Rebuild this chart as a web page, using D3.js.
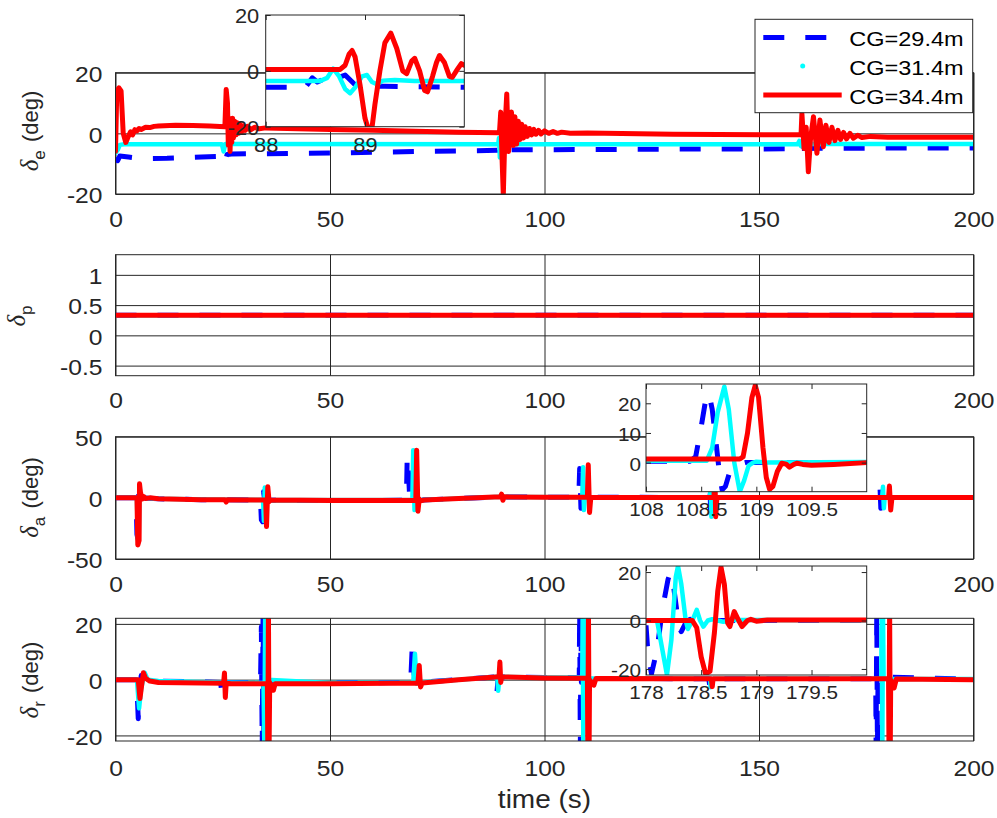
<!DOCTYPE html>
<html><head><meta charset="utf-8">
<script src="https://cdn.jsdelivr.net/npm/d3@7"></script>
<style>
body{margin:0;background:#fff;}
svg{display:block;}
</style></head><body>
<svg id="chart" width="997" height="818"></svg>
<script>
// ---------------- DATA ----------------
const seriesNames = ["CG=29.4m", "CG=31.4m", "CG=34.4m"];
const xTicksMain = [0, 50, 100, 150, 200];

// delta_e (deg), main plot
const deBlue = [[0,-8],[0.5,-9],[1,-7.5],[3,-7.8],[6,-8.3],[12,-8.2],[20,-7.8],[24.5,-7.6],[25,-10],[25.6,-9.5],[26,-7],[27,-6.8],[35,-6.7],[50,-6.5],[70,-6],[89,-5.6],[89.5,-4],[90,-5.5],[90.5,-6],[91,-5.4],[100,-5.4],[130,-5.2],[158.5,-5.1],[158.8,-4.5],[159.4,-5.8],[160,-5],[170,-4.9],[200,-4.8]];
const deCyan = [[0,-6.5],[0.5,-5.5],[1,-3.8],[2,-3.6],[24.8,-3.6],[25.2,-6],[25.6,-3.5],[89.2,-3.6],[89.4,-1.5],[89.6,-8],[90,-3.2],[90.4,-3.8],[91,-3.6],[159,-3.6],[159.4,-2.5],[159.8,-4.2],[160.3,-3.5],[200,-3.5]];
const deRed = [[0,-6],[0.3,14],[0.8,15],[1.3,14],[1.8,0],[2.4,-3],[3,-1],[3.5,0.5],[4,-0.5],[4.5,1.2],[5,0.8],[5.5,1.6],[6,1.3],[7,2],[8,1.9],[9,2.3],[10,2.4],[14,2.7],[18,2.6],[22,2.4],[25.5,2.2],[25.8,14.5],[26.1,10],[26.3,-4],[26.5,5],[26.7,-6],[26.9,4],[27.1,-3],[27.3,5],[27.5,-1.5],[27.8,4],[28.1,-0.5],[28.4,3.5],[28.7,0],[29,3],[29.4,0.5],[29.8,2.5],[30.3,1],[30.8,2.3],[31.5,1.2],[32.5,2],[33.5,1.5],[35,1.8],[40,1.6],[50,1.3],[60,1.0],[70,0.7],[80,0.4],[89.5,0.2],[89.8,7],[90.1,-8],[90.4,-20.5],[90.8,2],[91.2,13],[91.6,-6],[92,-2],[92.3,7],[92.7,-4],[93.1,5.5],[93.5,-3.5],[93.9,4],[94.3,-2],[94.7,3],[95.1,-1.5],[95.5,2.2],[96,-1],[96.5,1.6],[97,-0.5],[97.5,1.3],[98,-0.3],[98.6,1],[99.2,-0.2],[100,0.8],[101,0],[102,0.6],[103,0],[104,0.4],[106,0],[110,0.1],[130,-0.3],[159.8,-0.5],[160,6.5],[160.5,-5],[161,2],[161.5,-12.7],[162,-2],[162.7,5.5],[163.5,-6.6],[164.2,4.4],[165,-4.4],[165.6,2.7],[166.3,-3],[167,2],[167.7,-2.4],[168.4,1],[169,-2],[169.7,0.3],[170.4,-1.8],[171.2,0],[172,-1.6],[173,-0.6],[174,-1.4],[176,-1],[180,-1.3],[200,-1.3]];

// delta_e inset (88-90 s)
const ieBlue = [[88,-5.9],[88.4,-5.9],[88.47,-2.5],[88.52,-4],[88.58,-3],[88.66,-1],[88.72,-2.5],[88.8,-1.5],[88.9,-5],[89.0,-4.5],[89.1,-5.5],[89.2,-5.5],[90,-5.9]];
const ieCyan = [[88,-3.6],[88.55,-3.6],[88.62,-2.5],[88.68,0.8],[88.74,-2],[88.8,-6.5],[88.85,-8],[88.9,-6],[88.97,-2],[89.02,-1.5],[89.07,-4],[89.12,-4.8],[89.18,-3.5],[89.3,-3.3],[89.5,-3.6],[90,-3.6]];
const ieRed = [[88,0.5],[88.75,0.5],[88.8,2],[88.84,6],[88.87,7.3],[88.9,5],[88.95,-5],[89.0,-17],[89.03,-20.5],[89.07,-20.5],[89.1,-12],[89.15,0],[89.2,10],[89.26,13.5],[89.32,8],[89.38,0],[89.42,-1],[89.47,3.5],[89.5,4.5],[89.55,0],[89.6,-7],[89.63,-7.5],[89.68,-2],[89.72,3],[89.75,5.5],[89.8,3],[89.85,-2],[89.88,-2.3],[89.93,0.5],[89.97,2.6],[90,2]];

// delta_p
const dpBlue = [[0,0.333],[200,0.333]];
const dpCyan = [[0,0.333],[200,0.333]];
const dpRed = [[0,0.333],[200,0.333]];

// delta_a (deg)
const daBlue = [[0,0],[4.8,0],[5,-30],[5.2,-33],[5.4,8],[5.6,5],[5.8,-1],[6,0],[10,-0.8],[20,-1.5],[25,-1.5],[33.8,-1.8],[34,-18],[34.3,-19.5],[34.5,5],[34.8,-2],[36,-2],[50,-2.2],[67.8,-2],[68,34],[68.3,20],[68.6,-2],[70,-2],[80,-0.5],[90,0.8],[100,0.5],[108,0.5],[108.2,24],[108.5,-8.6],[108.8,0.5],[138.4,0.3],[138.5,25],[138.7,-10],[139,0.3],[178,0.3],[178.2,9],[178.4,-8.6],[178.6,0.3],[200,0.3]];
const daCyan = [[0,0],[5,0],[5.2,-34],[5.4,-36],[5.6,9],[5.8,3],[6.1,0],[10,-0.8],[25,-1.5],[34.4,-1.8],[34.6,-19],[34.8,8.5],[35,-2],[50,-2.2],[69.2,-2],[69.4,39],[69.7,-10],[70,-2],[80,-0.5],[90,0.8],[108.8,0.5],[109,25],[109.2,-10],[109.4,0.5],[138.6,0.3],[138.7,25],[138.9,-15.5],[139.1,0.3],[178.7,0.3],[178.9,9],[179.1,-8.6],[179.3,0.3],[200,0.3]];
const daRed = [[0,0],[5,0],[5.2,-38.5],[5.5,-35],[5.6,11.5],[5.8,5],[6.2,-1],[6.6,1],[7,-0.5],[8,0],[10,-0.8],[20,-1.5],[25.5,-1.6],[25.8,-3.5],[26.1,-1.6],[35,-1.8],[35.2,-23.5],[35.5,9],[35.8,-3],[36.2,-1.8],[50,-2.2],[70,-2],[70.2,39],[70.5,-11],[70.8,-1],[71.1,-2.5],[72,-1.8],[80,-0.5],[89.7,0.9],[90,3],[90.3,-2],[90.6,0.8],[100,0.5],[110,0.4],[110.2,27],[110.5,-12],[110.8,0.4],[139.5,0.3],[139.7,25],[139.9,-15.5],[140.2,0.3],[180.2,0.3],[180.4,9.6],[180.7,-10],[181,0.3],[200,0.3]];

// delta_a inset (108-110 s)
const iaBlue = [[108,0.5],[108.4,0.5],[108.45,2],[108.5,12],[108.54,21],[108.57,23.4],[108.6,18],[108.64,5],[108.67,-5],[108.69,-9.2],[108.72,-8],[108.76,-3],[108.79,-1.9],[108.85,-0.5],[108.9,0],[110,0]];
const iaCyan = [[108,0.6],[108.55,0.6],[108.6,5],[108.65,17],[108.71,25.6],[108.75,18],[108.8,0],[108.85,-9.8],[108.89,-6],[108.93,-1],[108.97,0],[109,0.3],[109.1,0],[110,0.2]];
const iaRed = [[108,1.2],[108.85,1.2],[108.88,2],[108.92,10],[108.96,22],[108.99,26],[109.02,22],[109.06,5],[109.09,-5],[109.12,-9],[109.15,-8],[109.19,-3],[109.23,-0.2],[109.27,-0.5],[109.3,-1.5],[109.34,-0.6],[109.37,-0.2],[109.42,-0.6],[109.5,-0.9],[109.7,-0.6],[110,0]];

// delta_r (deg)
const drBlue = [[0,0],[4.8,0],[5,-3],[5.3,-14],[5.6,-3],[6,1.5],[7,0.5],[10,-0.5],[24.5,-1],[24.8,-5],[25.1,-1],[33.8,-1.2],[34,19],[34.2,-25],[34.4,25],[34.6,-25],[34.8,-1],[50,-1.2],[68.8,-1],[69.2,13],[69.6,2],[70,-1],[80,0],[88.7,1],[88.9,-5],[89.2,1],[100,0.8],[108.1,0.8],[108.2,25],[108.35,-25],[108.5,25],[108.6,-1],[108.8,0.5],[138.3,0.3],[138.5,-2],[138.7,0.3],[177.2,0.3],[177.3,-25],[177.45,25],[177.6,-25],[177.75,1],[200,0.2]];
const drCyan = [[0,0],[5,0],[5.5,-10.3],[6,-3],[6.8,2.5],[7.5,0],[10,-0.5],[25,-1],[34.5,-1.2],[34.7,-25],[34.9,25],[35.1,-25],[35.3,0],[50,-1.2],[69.4,-1],[69.8,9.3],[70.2,-1.5],[70.5,-1],[80,0],[89,1],[89.2,-4],[89.5,1],[100,0.8],[108.8,0.8],[108.9,25],[109.05,-25],[109.2,25],[109.35,0.5],[138.6,0.3],[138.7,-2.7],[138.8,0.3],[178.5,0.3],[178.6,25],[178.75,-25],[178.9,25],[179.05,0.3],[200,0.2]];
const drRed = [[0,0],[5.3,0],[5.7,-6.8],[6.1,-2],[6.5,2.5],[7,0.5],[8,-0.5],[10,-1],[25.2,-1.3],[25.4,2.4],[25.6,-6.4],[25.8,-1.3],[27,-1.5],[30,-1.5],[35.4,-1.5],[35.5,-25],[35.65,25],[35.8,-25],[35.95,-1],[36.8,-3.8],[37.2,-1.5],[50,-1.5],[70.5,-1.2],[70.8,5.1],[71.1,-2.6],[71.5,-1.2],[80,0],[89.4,1],[89.6,6.3],[89.8,-1],[90,1],[100,0.6],[110,0.5],[110.1,-25],[110.25,25],[110.4,-25],[110.5,0],[111.5,-2],[112,0.4],[138.9,0.3],[139.1,-2.5],[139.3,0.3],[180.2,0.3],[180.3,-25],[180.45,25],[180.6,-25],[180.7,0],[181.5,-3],[182,0.2],[200,0]];

// delta_r inset (178-180 s)
const irBlue = [[178,-2],[178.02,-15],[178.05,-22],[178.1,-12],[178.15,5],[178.2,17],[178.22,19.7],[178.25,14],[178.3,-3],[178.32,-4.6],[178.36,-1],[178.4,0.5],[178.45,-0.5],[178.5,0],[180,0]];
const irCyan = [[178,0],[178.1,0],[178.14,-10],[178.19,-22.5],[178.23,-8],[178.27,18],[178.29,22.5],[178.32,15],[178.36,0],[178.38,-3.5],[178.42,0],[178.46,4.4],[178.49,0],[178.52,-2.5],[178.56,0],[178.6,0.5],[178.7,-0.5],[178.8,0.2],[180,0]];
const irRed = [[178,0],[178.42,0],[178.46,-3],[178.5,-15],[178.54,-22],[178.58,-21],[178.62,-5],[178.65,12],[178.68,22],[178.71,15],[178.74,-1],[178.76,-2.5],[178.8,3.7],[178.84,0],[178.87,-2.5],[178.92,0],[178.95,0.5],[179,-0.3],[179.1,0.2],[180,0.2]];

// ---------------- DRAWING ----------------
const svg = d3.select("#chart");
const SX = 1.12;
const FONT = '"Liberation Sans", Arial, Helvetica, sans-serif';
const INK = "#262626";
const COLORS = ["#0000ff", "#00ffff", "#ff0000"];
const WIDTHS = [5, 4.5, 5];
const DASH = ["21 21", null, null];
let clipId = 0;

function drawPanel(cfg) {
  const w = cfg.x1 - cfg.x0, h = cfg.y1 - cfg.y0;
  const g = svg.append("g").attr("transform", `translate(${cfg.x0},${cfg.y0})`);
  const x = d3.scaleLinear().domain(cfg.xd).range([0, w]);
  const y = d3.scaleLinear().domain(cfg.yd).range([h, 0]);
  g.append("rect").attr("width", w).attr("height", h).attr("fill", "#fff");
  if (cfg.grid) {
    g.append("g").attr("transform", `translate(0,${h})`)
      .call(d3.axisBottom(x).tickValues(cfg.xt).tickSize(-h).tickFormat(""))
      .call(s => { s.select(".domain").remove(); s.selectAll("line").attr("stroke", INK).attr("stroke-width", 1); });
    g.append("g")
      .call(d3.axisLeft(y).tickValues(cfg.yt).tickSize(-w).tickFormat(""))
      .call(s => { s.select(".domain").remove(); s.selectAll("line").attr("stroke", INK).attr("stroke-width", 1); });
  }
  const id = "clip" + (clipId++);
  g.append("clipPath").attr("id", id).append("rect").attr("width", w).attr("height", h);
  const line = d3.line().x(d => x(d[0])).y(d => y(d[1]));
  const pg = g.append("g").attr("clip-path", `url(#${id})`);
  cfg.series.forEach((s, i) => {
    pg.append("path").datum(s).attr("d", line)
      .attr("fill", "none").attr("stroke", COLORS[i]).attr("stroke-width", WIDTHS[i])
      .attr("stroke-dasharray", DASH[i]).attr("stroke-linejoin", "round")
      .attr("stroke-linecap", i === 0 ? "butt" : "round");
  });
  if (!cfg.grid) {
    const tk = 5;
    const mk = (ax, tr, vals) => g.append("g").attr("transform", tr)
      .call(ax.tickValues(vals).tickSize(-tk).tickFormat(""))
      .call(s => { s.select(".domain").remove(); s.selectAll("line").attr("stroke", INK); });
    mk(d3.axisBottom(x), `translate(0,${h})`, cfg.xt);
    mk(d3.axisTop(x), `translate(0,0)`, cfg.xt);
    mk(d3.axisLeft(y), `translate(0,0)`, cfg.yt);
    mk(d3.axisRight(y), `translate(${w},0)`, cfg.yt);
  }
  g.append("rect").attr("width", w).attr("height", h).attr("fill", "none").attr("stroke", INK).attr("stroke-width", 1);
  // tick labels
  const xa = g.append("g").attr("transform", `translate(0,${h})`)
    .call(d3.axisBottom(x).tickValues(cfg.xt).tickSize(0).tickFormat(d => String(d)));
  xa.select(".domain").remove();
  xa.attr("font-size", null).attr("font-family", null);
  xa.selectAll("text").attr("y", cfg.xlabOff).attr("dy", null)
    .attr("transform", `scale(${SX},1)`).attr("font-size", cfg.fs)
    .attr("font-family", FONT).attr("fill", INK);
  const ya = g.append("g")
    .call(d3.axisLeft(y).tickValues(cfg.yt).tickSize(0).tickFormat(d => String(d)));
  ya.select(".domain").remove();
  ya.attr("font-size", null).attr("font-family", null);
  ya.selectAll("text").attr("x", -cfg.ylabGap / SX).attr("dy", "0.4em")
    .attr("transform", `scale(${SX},1)`).attr("font-size", cfg.fs)
    .attr("font-family", FONT).attr("fill", INK);
  return g;
}

const X0 = 115.5, X1 = 973.5;
const mainBase = { x0: X0, x1: X1, xd: [0, 200], xt: xTicksMain, grid: true, fs: 22, ylabGap: 13 };

drawPanel(Object.assign({}, mainBase, { y0: 72.7, y1: 194, yd: [-20, 20], yt: [-20, 0, 20], xlabOff: 33.5, series: [deBlue, deCyan, deRed] }));
drawPanel(Object.assign({}, mainBase, { y0: 254.7, y1: 375.7, yd: [-0.667, 1.333], yt: [-0.5, 0, 0.5, 1], xlabOff: 32.5, series: [dpBlue, dpCyan, dpRed] }));
drawPanel(Object.assign({}, mainBase, { y0: 436.7, y1: 559, yd: [-50, 50], yt: [-50, 0, 50], xlabOff: 33.5, series: [daBlue, daCyan, daRed] }));
drawPanel(Object.assign({}, mainBase, { y0: 618.3, y1: 741, yd: [-22, 22], yt: [-20, 0, 20], xlabOff: 35.5, series: [drBlue, drCyan, drRed] }));

const insetBase = { grid: false, fs: 18.5, ylabGap: 5, xlabOff: 24 };
drawPanel(Object.assign({}, insetBase, { x0: 265.7, x1: 464.3, y0: 15, y1: 126.7, xd: [88, 90], xt: [88, 89], yd: [-20, 20], yt: [-20, 0, 20], fs: 19.5, ylabGap: 6.5, xlabOff: 25, series: [ieBlue, ieCyan, ieRed] }));
drawPanel(Object.assign({}, insetBase, { x0: 646, x1: 866.7, y0: 384, y1: 491.7, xd: [108, 110], xt: [108, 108.5, 109, 109.5], yd: [-9.8, 26.5], yt: [0, 10, 20], series: [iaBlue, iaCyan, iaRed] }));
drawPanel(Object.assign({}, insetBase, { x0: 646, x1: 866.7, y0: 566, y1: 675, xd: [178, 180], xt: [178, 178.5, 179, 179.5], yd: [-22.5, 22.5], yt: [-20, 0, 20], series: [irBlue, irCyan, irRed] }));

// legend
const lg = svg.append("g");
lg.append("rect").attr("x", 755).attr("y", 19.3).attr("width", 217.7).attr("height", 93.4)
  .attr("fill", "#fff").attr("stroke", INK).attr("stroke-width", 1);
const legY = [37.5, 66, 95];
lg.append("line").attr("x1", 763.3).attr("x2", 826.7).attr("y1", legY[0]).attr("y2", legY[0])
  .attr("stroke", COLORS[0]).attr("stroke-width", WIDTHS[0]).attr("stroke-dasharray", DASH[0]);
lg.append("circle").attr("cx", 802.7).attr("cy", legY[1]).attr("r", 2.5).attr("fill", COLORS[1]);
lg.append("line").attr("x1", 763.3).attr("x2", 841.7).attr("y1", legY[2]).attr("y2", legY[2])
  .attr("stroke", COLORS[2]).attr("stroke-width", WIDTHS[2]);
seriesNames.forEach((n, i) => {
  lg.append("text").attr("transform", `translate(849.3,${legY[i] + 8.5}) scale(${SX},1)`)
    .attr("font-size", 21).attr("font-family", FONT).attr("fill", "#000").text(n);
});

// y labels
function ylab(cx, cy, sub, withDeg) {
  const t = svg.append("text").attr("transform", `translate(${cx},${cy}) rotate(-90)`)
    .attr("text-anchor", "middle").attr("font-size", 22).attr("font-family", FONT).attr("fill", INK);
  t.append("tspan").attr("font-family", '"Liberation Serif","DejaVu Serif",serif')
    .attr("font-style", "italic").attr("font-size", 25).text("δ");
  t.append("tspan").attr("font-size", 17).attr("dy", 7).text(sub);
  if (withDeg) t.append("tspan").attr("dy", -7).attr("dx", 2).text(" (deg)");
}
ylab(38, 131, "e", true);
ylab(25, 316, "p", false);
ylab(38, 497.5, "a", true);
ylab(38, 680, "r", true);

// x label
svg.append("text").attr("transform", `translate(544.5,808) scale(${SX},1)`)
  .attr("text-anchor", "middle").attr("font-size", 25).attr("font-family", FONT).attr("fill", INK)
  .text("time (s)");
</script>
</body></html>
